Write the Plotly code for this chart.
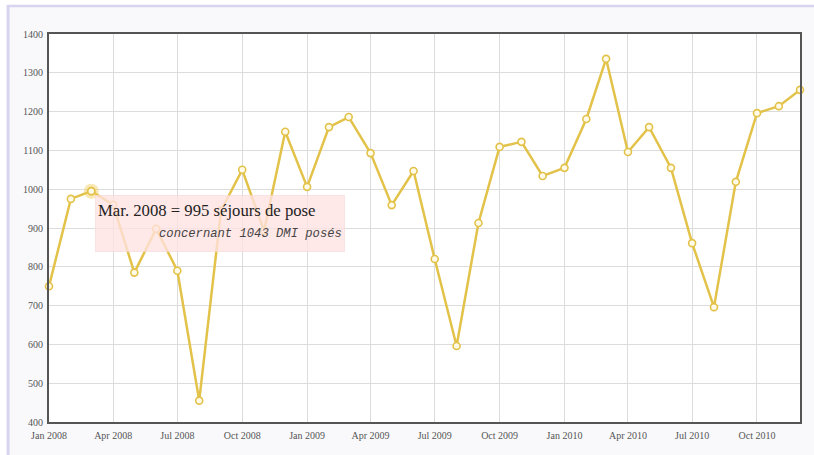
import plotly.graph_objects as go

months = [
    "2008-01-01", "2008-02-01", "2008-03-01", "2008-04-01", "2008-05-01", "2008-06-01",
    "2008-07-01", "2008-08-01", "2008-09-01", "2008-10-01", "2008-11-01", "2008-12-01",
    "2009-01-01", "2009-02-01", "2009-03-01", "2009-04-01", "2009-05-01", "2009-06-01",
    "2009-07-01", "2009-08-01", "2009-09-01", "2009-10-01", "2009-11-01", "2009-12-01",
    "2010-01-01", "2010-02-01", "2010-03-01", "2010-04-01", "2010-05-01", "2010-06-01",
    "2010-07-01", "2010-08-01", "2010-09-01", "2010-10-01", "2010-11-01", "2010-12-01",
]
sejours = [
    750, 975, 995, 960, 785, 898, 790, 455, 945, 1050, 893, 1148,
    1006, 1160, 1186, 1093, 959, 1047, 820, 596, 913, 1109, 1122, 1034,
    1055, 1181, 1336, 1096, 1160, 1055, 861, 696, 1019, 1196, 1214, 1256,
]
y_ticks = [400, 500, 600, 700, 800, 900, 1000, 1100, 1200, 1300, 1400]

highlight_index = 2
highlight_label = "Mar. 2008"
highlight_dmi = 1043

LINE = "#e3c24a"

fig = go.Figure()

fig.add_trace(go.Scatter(
    x=months, y=sejours, mode="lines+markers",
    line=dict(color=LINE, width=2.5),
    marker=dict(size=7, color="#fffbe8", line=dict(color=LINE, width=1.6)),
    cliponaxis=False, hoverinfo="skip", showlegend=False,
))
fig.add_trace(go.Scatter(
    x=[months[highlight_index]], y=[sejours[highlight_index]], mode="markers",
    marker=dict(size=15, color="rgba(240,205,90,0.45)", line=dict(width=0)),
    cliponaxis=False, hoverinfo="skip", showlegend=False,
))
fig.add_trace(go.Scatter(
    x=[months[highlight_index]], y=[sejours[highlight_index]], mode="markers",
    marker=dict(size=7, color="#fffbe8", line=dict(color=LINE, width=1.6)),
    cliponaxis=False, hoverinfo="skip", showlegend=False,
))

# tooltip box
fig.add_annotation(
    x=months[highlight_index], y=sejours[highlight_index], xref="x", yref="y",
    xanchor="left", yanchor="top", xshift=4, yshift=-4,
    text="", showarrow=False, width=246, height=53,
    bgcolor="rgba(255,226,226,0.78)", bordercolor="rgba(248,215,215,0.6)", borderwidth=1,
)
fig.add_annotation(
    x=months[highlight_index], y=sejours[highlight_index], xref="x", yref="y",
    xanchor="left", yanchor="top", xshift=5, yshift=-8,
    text=f"{highlight_label} = {sejours[highlight_index]} séjours de pose",
    showarrow=False, font=dict(family="Liberation Serif", size=16.7, color="#222"),
)
fig.add_annotation(
    x=months[highlight_index], y=sejours[highlight_index], xref="x", yref="y",
    xanchor="right", yanchor="top", xshift=253, yshift=-34,
    text=f"<i>concernant {highlight_dmi} DMI posés</i>",
    showarrow=False, font=dict(family="Liberation Mono", size=12.2, color="#444"),
)

# page frame (lavender border on left and top)
W, H = 814, 455
L, R, T, B = 49, 12, 34, 33
pw, ph = W - L - R, H - T - B
def px(xp):
    return (xp - L) / pw
def py(yp):
    return (H - B - yp) / ph

fig.add_shape(type="rect", xref="paper", yref="paper",
              x0=px(-5), x1=px(W + 5), y0=py(-5), y1=py(5), fillcolor="white",
              line=dict(width=0), layer="above")
fig.add_shape(type="rect", xref="paper", yref="paper",
              x0=px(-5), x1=px(6.5), y0=py(-5), y1=py(H + 5), fillcolor="white",
              line=dict(width=0), layer="above")
fig.add_shape(type="line", xref="paper", yref="paper",
              x0=px(7), x1=px(W + 5), y0=py(6), y1=py(6),
              line=dict(color="#d6d4ee", width=2.5), layer="above")
fig.add_shape(type="line", xref="paper", yref="paper",
              x0=px(8), x1=px(8), y0=py(5), y1=py(H + 5),
              line=dict(color="#d6d4ee", width=3), layer="above")

fig.update_layout(
    width=W, height=H,
    margin=dict(l=L, r=R, t=T, b=B),
    paper_bgcolor="#f9f9fb", plot_bgcolor="white",
    font=dict(family="Liberation Serif", size=10, color="#555"),
    showlegend=False,
)
fig.update_xaxes(
    type="date", range=[months[0], months[-1]],
    tickformat="%b %Y", dtick="M3", tick0=months[0],
    showgrid=True, gridcolor="#dcdcdc", gridwidth=1,
    showline=True, linecolor="#555", linewidth=2, mirror=True,
    ticks="", ticklabelstandoff=3, zeroline=False,
)
fig.update_yaxes(
    range=[y_ticks[0], y_ticks[-1]], tickvals=y_ticks,
    showgrid=True, gridcolor="#dcdcdc", gridwidth=1,
    showline=True, linecolor="#555", linewidth=2, mirror=True,
    ticks="", ticklabelstandoff=2, zeroline=False,
)

fig.write_html("out.html", config={"displayModeBar": False},
               post_script="document.body.style.margin='0px';")
